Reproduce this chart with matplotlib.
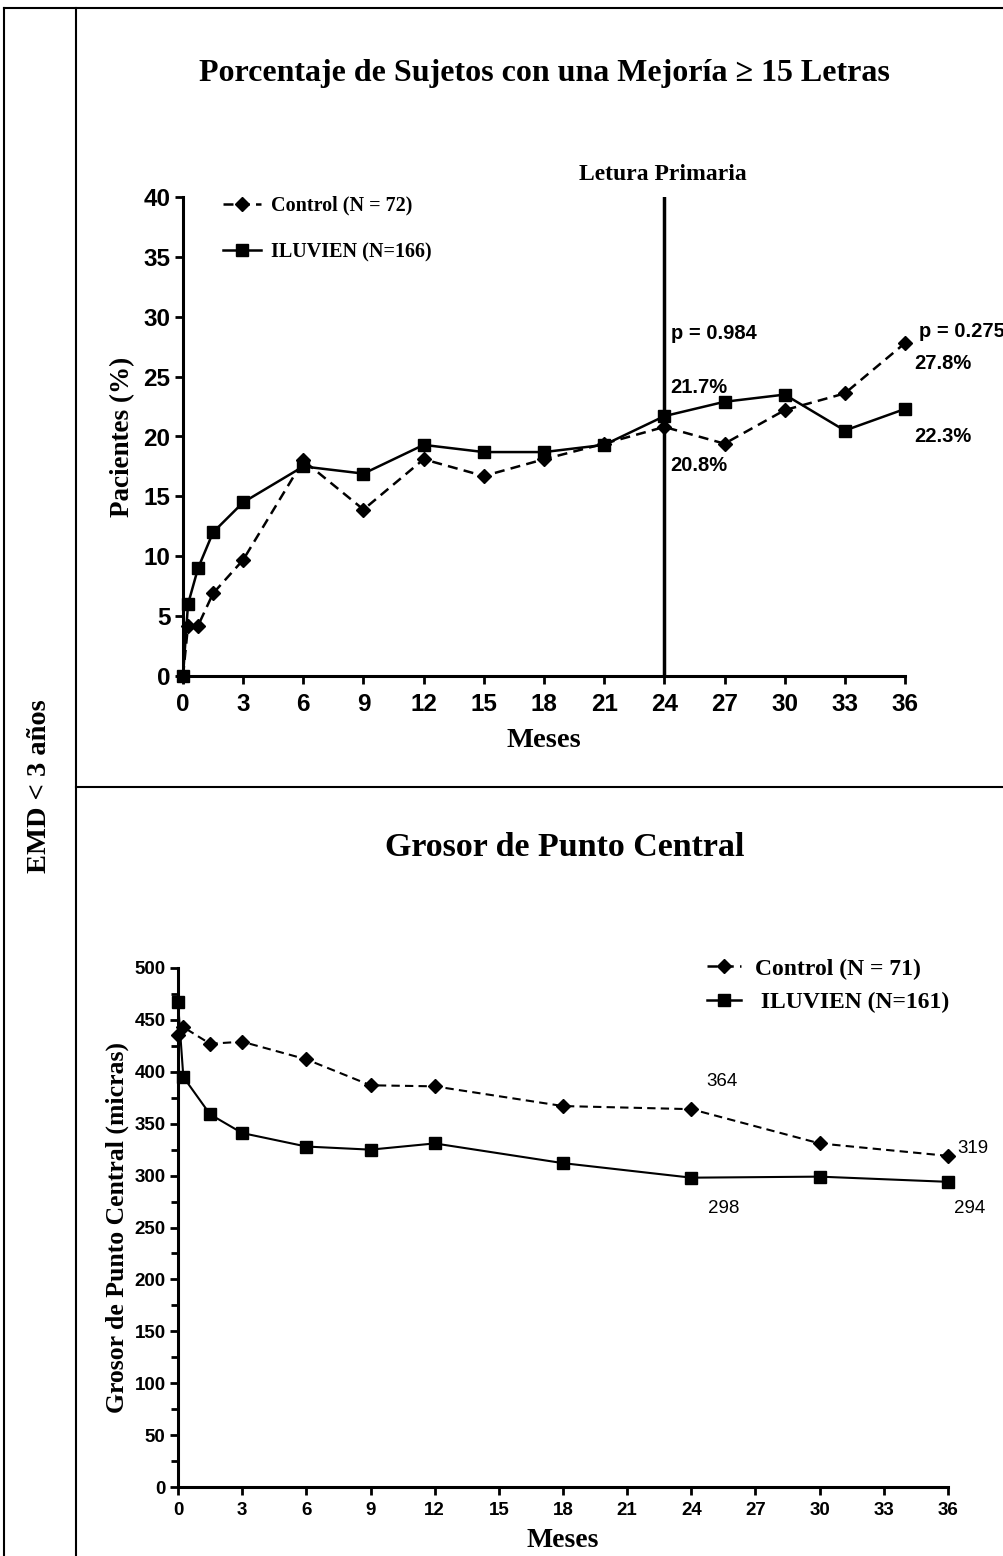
import matplotlib
matplotlib.use("Agg")
import matplotlib.pyplot as plt
from matplotlib.lines import Line2D

# ---------------- data ----------------
# Top chart: percentage of subjects with >= 15 letters improvement
top_months = [0, 0.25, 0.75, 1.5, 3, 6, 9, 12, 15, 18, 21, 24, 27, 30, 33, 36]
top_control = [0, 4.2, 4.2, 6.9, 9.7, 18.0, 13.9, 18.1, 16.7, 18.1, 19.4, 20.8, 19.4, 22.2, 23.6, 27.8]
top_iluvien = [0, 6.0, 9.0, 12.0, 14.5, 17.5, 16.9, 19.3, 18.7, 18.7, 19.3, 21.7, 22.9, 23.5, 20.5, 22.3]
top_xticks = [0, 3, 6, 9, 12, 15, 18, 21, 24, 27, 30, 33, 36]
top_yticks = [0, 5, 10, 15, 20, 25, 30, 35, 40]

# Bottom chart: central point thickness
bot_months = [0, 0.25, 1.5, 3, 6, 9, 12, 18, 24, 30, 36]
bot_control = [435, 443, 427, 429, 412, 387, 386, 367, 364, 331, 319]
bot_iluvien = [467, 395, 359, 341, 328, 325, 331, 312, 298, 299, 294]
bot_xticks = [0, 3, 6, 9, 12, 15, 18, 21, 24, 27, 30, 33, 36]
bot_yticks = [0, 50, 100, 150, 200, 250, 300, 350, 400, 450, 500]

SERIF = ["Liberation Serif", "DejaVu Serif"]
SANS = ["Liberation Sans", "DejaVu Sans"]
NARROW = ["Liberation Sans Narrow", "Liberation Sans", "DejaVu Sans"]

W, H = 1004, 1556
fig = plt.figure(figsize=(W / 100, H / 100), dpi=100)


def fx(px):
    return px / W


def fy(py):
    return 1 - py / H


# ---------------- table borders ----------------
for (x0, y0, x1, y1) in [(4, 8, 4, 1556), (76, 8, 76, 1556), (4, 8, 1004, 8), (76, 787, 1004, 787)]:
    fig.add_artist(Line2D([fx(x0), fx(x1)], [fy(y0), fy(y1)], color="black", lw=1.5,
                          transform=fig.transFigure))

fig.text(fx(40), fy(786), "EMD < 3 años", rotation=90, ha="center", va="center",
         family=SERIF, fontweight="bold", fontsize=20.5)

# ---------------- top chart ----------------
ax1 = fig.add_axes([fx(183), fy(676), fx(905) - fx(183), fy(197) - fy(676)])
ax1.plot(top_months, top_control, color="black", lw=1.8, ls=(0, (4, 2.5)), marker="D",
         ms=7.5, clip_on=False, zorder=3)
ax1.plot(top_months, top_iluvien, color="black", lw=1.8, ls="-", marker="s",
         ms=9, clip_on=False, zorder=3)
ax1.axvline(24, ymin=0, ymax=1, color="black", lw=2.5, zorder=2)
ax1.set_xlim(0, 36)
ax1.set_ylim(0, 40)
ax1.set_xticks(top_xticks)
ax1.set_yticks(top_yticks)
for s in ["top", "right"]:
    ax1.spines[s].set_visible(False)
for s in ["left", "bottom"]:
    ax1.spines[s].set_linewidth(2.2)
ax1.tick_params(direction="out", length=6, width=2, pad=3)
ax1.tick_params(axis="x", pad=6)
for lab in ax1.get_xticklabels() + ax1.get_yticklabels():
    lab.set_family(SANS)
    lab.set_fontweight("bold")
    lab.set_fontsize(17.5)
ax1.set_xlabel("Meses", family=SERIF, fontweight="bold", fontsize=20.5, labelpad=9)
ax1.set_ylabel("Pacientes (%)", family=SERIF, fontweight="bold", fontsize=19.5, labelpad=6)

fig.text(fx(544), fy(73), "Porcentaje de Sujetos con una Mejoría ≥ 15 Letras", ha="center",
         va="center", family=SERIF, fontweight="bold", fontsize=23)
fig.text(fx(663), fy(175), "Letura Primaria", ha="center", va="center",
         family=SERIF, fontweight="bold", fontsize=17)

# legend (top)
h1 = Line2D([], [], color="black", lw=1.8, ls=(0, (4, 2.5)), marker="D", ms=7.5)
h2 = Line2D([], [], color="black", lw=1.8, ls="-", marker="s", ms=9)
ax1.legend([h1, h2], ["Control (N = 72)", "ILUVIEN (N=166)"], loc="upper left",
           bbox_to_anchor=(0.03, 1.04), frameon=False, handlelength=1.9,
           handletextpad=0.5, labelspacing=1.3,
           prop={"family": SERIF, "weight": "bold", "size": 14.5})

ann_kw = dict(family=SANS, fontweight="bold", fontsize=14.5, clip_on=False, va="center")
ax1.text(24.35, 28.6, "p = 0.984", **ann_kw)
ax1.text(24.3, 24.1, "21.7%", **ann_kw)
ax1.text(24.3, 17.6, "20.8%", **ann_kw)
ax1.text(36.7, 28.8, "p = 0.275", **ann_kw)
ax1.text(36.45, 26.1, "27.8%", **ann_kw)
ax1.text(36.45, 20.0, "22.3%", **ann_kw)

# ---------------- bottom chart ----------------
ax2 = fig.add_axes([fx(178), fy(1487), fx(948) - fx(178), fy(968) - fy(1487)])
ax2.plot(bot_months, bot_control, color="black", lw=1.5, ls=(0, (4, 2.5)), marker="D",
         ms=7, clip_on=False, zorder=3)
ax2.plot(bot_months, bot_iluvien, color="black", lw=1.5, ls="-", marker="s",
         ms=8.5, clip_on=False, zorder=3)
ax2.set_xlim(0, 36)
ax2.set_ylim(0, 500)
ax2.set_xticks(bot_xticks)
ax2.set_yticks(bot_yticks)
ax2.set_yticks([25 + 50 * i for i in range(10)], minor=True)
for s in ["top", "right"]:
    ax2.spines[s].set_visible(False)
for s in ["left", "bottom"]:
    ax2.spines[s].set_linewidth(2.2)
ax2.tick_params(which="major", direction="out", length=6, width=2, pad=3)
ax2.tick_params(axis="x", pad=5)
ax2.tick_params(which="minor", direction="out", length=5, width=2)
for lab in ax2.get_xticklabels():
    lab.set_family(NARROW)
    lab.set_fontweight("bold")
    lab.set_fontsize(13.5)
for lab in ax2.get_yticklabels():
    lab.set_family(SANS)
    lab.set_fontweight("bold")
    lab.set_fontsize(13.5)
ax2.set_xlabel("Meses", family=SERIF, fontweight="bold", fontsize=20, labelpad=6)
ax2.set_ylabel("Grosor de Punto Central (micras)", family=SERIF, fontweight="bold",
               fontsize=18.5, labelpad=4)

fig.text(fx(565), fy(848), "Grosor de Punto Central", ha="center", va="center",
         family=SERIF, fontweight="bold", fontsize=24.5)

h3 = Line2D([], [], color="black", lw=1.8, ls=(0, (4, 2.5)), marker="D", ms=7.5)
h4 = Line2D([], [], color="black", lw=1.8, ls="-", marker="s", ms=9)
ax2.legend([h3, h4], ["Control (N = 71)", " ILUVIEN (N=161)"], loc="upper left",
           bbox_to_anchor=(0.66, 1.06), frameon=False, handlelength=1.4,
           handletextpad=0.6, labelspacing=0.5,
           prop={"family": SERIF, "weight": "bold", "size": 17})

b_kw = dict(family=SANS, fontsize=13.5, clip_on=False, va="center")
ax2.text(24.7, 391, "364", **b_kw)
ax2.text(36.45, 326, "319", **b_kw)
ax2.text(24.8, 268, "298", **b_kw)
ax2.text(36.3, 268, "294", **b_kw)

fig.savefig("out.png", dpi=100)
